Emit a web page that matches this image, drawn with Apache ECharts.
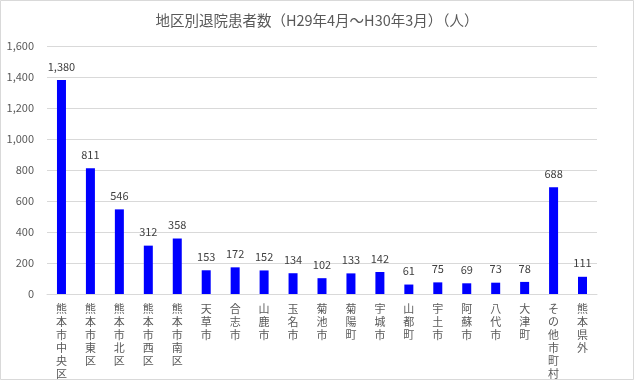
<!DOCTYPE html>
<html><head><meta charset="utf-8">
<script src="https://cdn.jsdelivr.net/npm/echarts@6/dist/echarts.min.js"></script>
<style>html,body{margin:0;padding:0;background:#fff}#c{width:634px;height:380px}</style>
</head><body><div id="c"></div>
<script>
const categories = ['熊本市中央区','熊本市東区','熊本市北区','熊本市西区','熊本市南区','天草市','合志市','山鹿市','玉名市','菊池市','菊陽町','宇城市','山都町','宇土市','阿蘇市','八代市','大津町','その他市町村','熊本県外'];
const values = [1380,811,546,312,358,153,172,152,134,102,133,142,61,75,69,73,78,688,111];
const yTicks = [0,200,400,600,800,1000,1200,1400,1600];
const titleText = '地区別退院患者数（H29年4月～H30年3月）（人）';

const font = '"Noto Sans CJK JP", "Noto Sans", sans-serif';
const chart = echarts.init(document.getElementById('c'));
chart.setOption({
  animation: false,
  backgroundColor: '#fff',
  textStyle: { fontFamily: font },
  title: { text: titleText, left: 'center', top: 8,
    textStyle: { fontFamily: font, fontSize: 14.5, fontWeight: 'normal', color: '#595959' } },
  graphic: [{ type: 'rect', shape: { x: 0.5, y: 0.5, width: 633, height: 379 },
    style: { fill: 'none', stroke: '#d9d9d9', lineWidth: 1 }, silent: true }],
  grid: { left: 47, right: 37, top: 46, bottom: 84, containLabel: false },
  xAxis: { type: 'category', data: categories,
    axisLine: { lineStyle: { color: '#d9d9d9' } }, axisTick: { show: false },
    axisLabel: { interval: 0, color: '#595959', fontSize: 11, lineHeight: 13, margin: 8,
      verticalAlign: 'top', formatter: v => v.split('').join('\n') } },
  yAxis: { type: 'value', min: yTicks[0], max: yTicks[yTicks.length-1], interval: 200,
    axisLine: { show: false }, axisTick: { show: false },
    splitLine: { lineStyle: { color: '#d9d9d9' } },
    axisLabel: { color: '#595959', fontSize: 11, margin: 13,
      formatter: v => v.toLocaleString('en-US') } },
  series: [{ type: 'bar', data: values, barWidth: 9,
    itemStyle: { color: '#0000ff' },
    label: { show: true, position: 'top', distance: 8, color: '#404040', fontSize: 11,
      formatter: p => p.value.toLocaleString('en-US') } }]
});
</script></body></html>
